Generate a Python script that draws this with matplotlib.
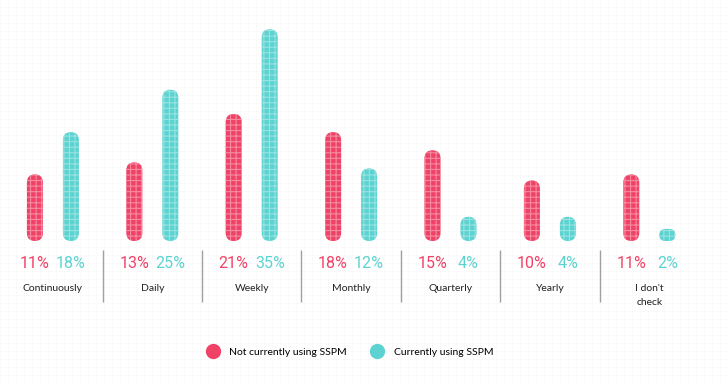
import matplotlib.pyplot as plt
from matplotlib.patches import FancyBboxPatch
from matplotlib.lines import Line2D
import numpy as np

categories = ['Continuously', 'Daily', 'Weekly', 'Monthly', 'Quarterly', 'Yearly', "I don't\ncheck"]
not_using = [11, 13, 21, 18, 15, 10, 11]
using = [18, 25, 35, 12, 4, 4, 2]
series = ['Not currently using SSPM', 'Currently using SSPM']

RED = '#ef4266'
TEAL = '#5cd3d1'
RED_GRID = '#f58aa1'
TEAL_GRID = '#98e2e0'

W, H = 728, 383
fig = plt.figure(figsize=(W / 100, H / 100), dpi=100)

# faint paper grid behind everything
bg = fig.add_axes([0, 0, 1, 1], zorder=0)
bg.set_xlim(0, W)
bg.set_ylim(0, H)
bg.set_xticks(np.arange(0, W, 8))
bg.set_yticks(np.arange(0, H, 8))
bg.grid(color='#f8f8f8', lw=0.5)
bg.tick_params(length=0, labelbottom=False, labelleft=False)
for s in bg.spines.values():
    s.set_visible(False)

# main axes: x in group index, y in percent
px_x = 99.4          # pixels per group
px_y = 6.05          # pixels per percent
x0 = 52.9 - 0.5 * px_x
base = H - 241
ymax = 38
ax = fig.add_axes([x0 / W, base / H, 7 * px_x / W, ymax * px_y / H], zorder=1)
ax.set_xlim(-0.5, 6.5)
ax.set_ylim(0, ymax)
ax.axis('off')

off = 18 / px_x
bw = 16 / px_x
pt = 0.72  # points per pixel
plt.rcParams['hatch.linewidth'] = 0.8


def draw_bars(xs, vals, color, gridcolor):
    for x, v in zip(xs, vals):
        hpx = v * px_y
        rpx = min(8, hpx / 2)
        p = FancyBboxPatch((x - bw / 2, 0), bw, v,
                           boxstyle=f'round,pad=0,rounding_size={rpx / px_x}',
                           mutation_aspect=px_x / px_y,
                           facecolor=color, edgecolor=gridcolor, linewidth=0,
                           hatch='+++')
        ax.add_patch(p)
        ax.annotate(f'{v}%', xy=(x, 0), xytext=(0, -22 * pt), textcoords='offset points',
                    ha='center', va='center', color=color, fontsize=11.5,
                    family='Roboto', clip_on=False)


idx = np.arange(len(categories))
draw_bars(idx - off, not_using, RED, RED_GRID)
draw_bars(idx + off, using, TEAL, TEAL_GRID)

for i, c in enumerate(categories):
    ax.annotate(c, xy=(i, 0), xytext=(0, -43 * pt), textcoords='offset points',
                ha='center', va='top', fontsize=7.5, color='#222222',
                family='Lato', linespacing=1.65, clip_on=False)

for i in range(len(categories) - 1):
    ax.vlines(i + 0.5, -9 / px_y, -61 / px_y, color='#a0a0a0', lw=1, clip_on=False)

handles = [Line2D([], [], ls='none', marker='o', markersize=11, markerfacecolor=c,
                  markeredgewidth=0) for c in (RED, TEAL)]
fig.legend(handles, series, loc='center', bbox_to_anchor=(348 / W, 1 - 352 / H),
           ncol=2, frameon=False, columnspacing=1.9, handletextpad=0.6,
           prop={'family': 'Lato', 'size': 7.5})

fig.savefig('out.png', dpi=100)
